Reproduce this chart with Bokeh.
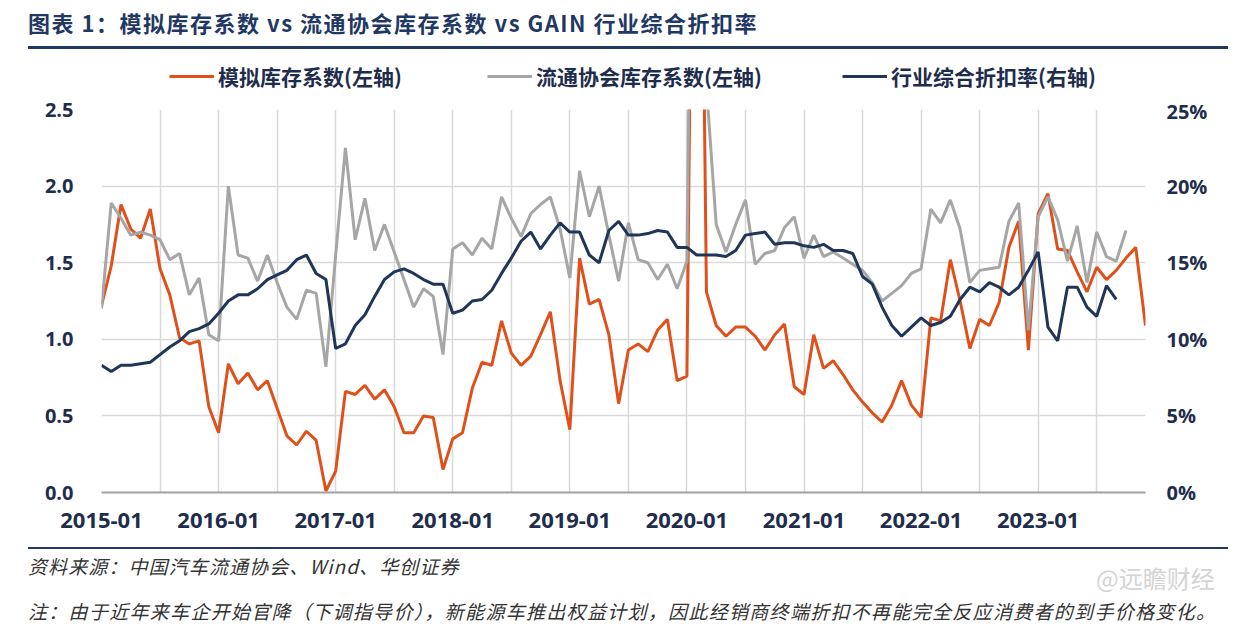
from bokeh.plotting import figure
from bokeh.layouts import column
from bokeh.models import (Range1d, LinearAxis, FixedTicker, Legend, LegendItem, Div,
                          PrintfTickFormatter)
from bokeh.embed import file_html
from bokeh.resources import INLINE

# ---------------- data (monthly, index 0 = 2015-01) ----------------
tick_labels = ["2015-01", "2016-01", "2017-01", "2018-01", "2019-01",
               "2020-01", "2021-01", "2022-01", "2023-01"]

# 模拟库存系数 (left axis), 2015-01 .. 2023-12
sim_inventory = [
    1.22, 1.48, 1.88, 1.72, 1.66, 1.85, 1.46, 1.29, 1.01, 0.97, 0.99, 0.56,
    0.39, 0.84, 0.71, 0.78, 0.67, 0.73, 0.55, 0.37, 0.31, 0.40, 0.34, 0.01,
    0.14, 0.66, 0.64, 0.70, 0.61, 0.67, 0.56, 0.39, 0.39, 0.50, 0.49, 0.15,
    0.35, 0.39, 0.68, 0.85, 0.83, 1.12, 0.91, 0.83, 0.89, 1.03, 1.18, 0.73,
    0.41, 1.53, 1.23, 1.26, 1.03, 0.58, 0.93, 0.97, 0.92, 1.06, 1.13, 0.73,
    0.76, 7.00, 1.31, 1.09, 1.02, 1.08, 1.08, 1.02, 0.93, 1.03, 1.10, 0.69,
    0.64, 1.03, 0.81, 0.86, 0.77, 0.67, 0.59, 0.52, 0.46, 0.57, 0.73, 0.57,
    0.49, 1.14, 1.12, 1.52, 1.25, 0.94, 1.13, 1.09, 1.24, 1.60, 1.77, 0.93,
    1.82, 1.95, 1.59, 1.58, 1.44, 1.31, 1.47, 1.39, 1.45, 1.53, 1.60, 1.09,
]

# 流通协会库存系数 (left axis), 2015-01 .. 2023-10
assoc_inventory = [
    1.20, 1.89, 1.79, 1.68, 1.70, 1.68, 1.65, 1.52, 1.56, 1.29, 1.40, 1.03,
    0.99, 2.00, 1.55, 1.53, 1.38, 1.55, 1.37, 1.21, 1.13, 1.32, 1.30, 0.82,
    1.55, 2.25, 1.65, 1.92, 1.58, 1.75, 1.57, 1.39, 1.21, 1.33, 1.28, 0.90,
    1.59, 1.63, 1.55, 1.66, 1.59, 1.93, 1.79, 1.67, 1.82, 1.88, 1.93, 1.72,
    1.40, 2.10, 1.80, 2.00, 1.68, 1.38, 1.76, 1.52, 1.50, 1.39, 1.49, 1.33,
    1.51, 7.00, 2.65, 1.75, 1.57, 1.75, 1.91, 1.49, 1.56, 1.58, 1.73, 1.80,
    1.53, 1.68, 1.54, 1.57, 1.53, 1.49, 1.45, 1.37, 1.25, 1.30, 1.35, 1.43,
    1.46, 1.85, 1.76, 1.91, 1.72, 1.37, 1.45, 1.46, 1.47, 1.77, 1.89, 1.06,
    1.80, 1.93, 1.78, 1.51, 1.74, 1.37, 1.70, 1.54, 1.51, 1.71,
]

# 行业综合折扣率 (right axis, %), 2015-01 .. 2023-09
discount_rate = [
    8.3, 7.9, 8.3, 8.3, 8.4, 8.5, 9.0, 9.5, 9.9, 10.5, 10.7, 11.0,
    11.7, 12.5, 12.9, 12.9, 13.3, 13.9, 14.2, 14.5, 15.2, 15.5, 14.3, 13.9,
    9.4, 9.7, 10.9, 11.6, 12.8, 13.9, 14.4, 14.6, 14.3, 13.9, 13.6, 13.6,
    11.7, 11.9, 12.5, 12.6, 13.2, 14.3, 15.3, 16.4, 17.0, 15.9, 16.8, 17.6,
    17.0, 17.0, 15.5, 15.0, 17.1, 17.7, 16.8, 16.8, 16.9, 17.1, 17.0, 16.0,
    16.0, 15.5, 15.5, 15.5, 15.4, 15.8, 16.8, 16.9, 17.0, 16.2, 16.3, 16.3,
    16.1, 16.0, 16.2, 15.8, 15.8, 15.6, 14.1, 13.6, 12.1, 10.9, 10.2, 10.8,
    11.4, 10.9, 11.1, 11.5, 12.6, 13.4, 13.1, 13.7, 13.4, 12.9, 13.4, 14.5,
    15.7, 10.8, 9.9, 13.4, 13.4, 12.1, 11.5, 13.5, 12.6,
]

left_ticks = [0.0, 0.5, 1.0, 1.5, 2.0, 2.5]
right_ticks = [0, 5, 10, 15, 20, 25]

series_names = ["模拟库存系数(左轴)", "流通协会库存系数(左轴)", "行业综合折扣率(右轴)"]
title_text = "图表 1：模拟库存系数 vs 流通协会库存系数 vs GAIN 行业综合折扣率"
source_text = "资料来源：中国汽车流通协会、Wind、华创证券"
note_text = ("注：由于近年来车企开始官降（下调指导价），新能源车推出权益计划，"
             "因此经销商终端折扣不再能完全反应消费者的到手价格变化。")
watermark_text = "@远瞻财经"

# ---------------- style ----------------
ORANGE = "#E0501B"
GRAY = "#A6A6A6"
NAVY = "#1F3658"
TEXT = "#1F2D4D"
TITLE_C = "#1F3864"
GRID = "#D9D9D9"
CJK = "Noto Sans CJK SC"
SERIES_COLORS = [ORANGE, GRAY, NAVY]
W = 1242

# ---------------- header (title + rule) ----------------
header = Div(width=W, height=60, margin=0, text=f"""
<div style="position:relative;width:{W}px;height:60px;overflow:hidden;">
  <div style="position:absolute;left:28px;top:7px;height:30px;line-height:30px;
              font-family:'{CJK}';font-weight:bold;font-size:22px;letter-spacing:1.5px;
              color:{TITLE_C};white-space:nowrap;">{title_text}</div>
  <div style="position:absolute;left:28px;top:46px;width:1200px;height:3px;
              background:{TITLE_C};"></div>
</div>""")

# ---------------- legend strip ----------------
leg_fig = figure(width=W, height=37, output_backend="svg", toolbar_location=None,
                 title=None, x_axis_type=None, y_axis_type=None,
                 x_range=Range1d(0, 1), y_range=Range1d(0, 1),
                 min_border_left=101, min_border_right=97, min_border_top=0,
                 min_border_bottom=0, outline_line_color=None,
                 background_fill_color="white", border_fill_color="white")
swatches = [leg_fig.line(x=[0], y=[float("nan")], line_color=c, line_width=3)
            for c in SERIES_COLORS]
for r, name, vx in zip(swatches, series_names, [68, 386, 741]):
    leg_fig.add_layout(Legend(
        items=[LegendItem(label=name, renderers=[r])], location=(vx, 6),
        orientation="horizontal", margin=0, padding=0, spacing=0,
        border_line_color=None, background_fill_alpha=0,
        glyph_width=45, glyph_height=24, label_height=24, label_standoff=4,
        label_text_font=CJK, label_text_font_style="bold",
        label_text_font_size="21px", label_text_color=TEXT), "center")

# ---------------- main chart ----------------
n_months = len(sim_inventory)
p = figure(width=W, height=443, output_backend="svg", toolbar_location=None,
           title=None, x_range=Range1d(0, n_months - 1), y_range=Range1d(0, 2.5),
           min_border_left=101, min_border_right=97, min_border_top=12,
           min_border_bottom=48, outline_line_color=None,
           background_fill_color="white", border_fill_color="white")
p.extra_y_ranges = {"pct": Range1d(0, 25)}

p.line(list(range(len(sim_inventory))), sim_inventory, line_color=ORANGE, line_width=3)
p.line(list(range(len(assoc_inventory))), assoc_inventory, line_color=GRAY, line_width=3)
p.line(list(range(len(discount_rate))), discount_rate, line_color=NAVY, line_width=3,
       y_range_name="pct")

xa = p.xaxis[0]
xa.ticker = FixedTicker(ticks=[12 * k for k in range(len(tick_labels))])
xa.major_label_overrides = {12 * k: lab for k, lab in enumerate(tick_labels)}
xa.axis_line_color = "#A0A0A0"
xa.axis_line_width = 2
xa.major_tick_out = 0
xa.major_tick_in = 0
xa.minor_tick_out = 0
xa.minor_tick_in = 0
xa.major_label_standoff = 20
xa.major_label_text_font = "Open Sans"
xa.major_label_text_font_style = "bold"
xa.major_label_text_font_size = "22px"
xa.major_label_text_color = TEXT

ya = p.yaxis[0]
ya.ticker = FixedTicker(ticks=left_ticks)
ya.formatter = PrintfTickFormatter(format="%.1f")
ya.axis_line_color = None
ya.major_tick_out = 0
ya.major_tick_in = 0
ya.minor_tick_out = 0
ya.minor_tick_in = 0
ya.major_label_standoff = 28
ya.major_label_text_font = "Open Sans"
ya.major_label_text_font_style = "bold"
ya.major_label_text_font_size = "20px"
ya.major_label_text_color = TEXT

ra = LinearAxis(y_range_name="pct", ticker=FixedTicker(ticks=right_ticks),
                formatter=PrintfTickFormatter(format="%d%%"))
ra.axis_line_color = None
ra.major_tick_out = 0
ra.major_tick_in = 0
ra.minor_tick_out = 0
ra.minor_tick_in = 0
ra.major_label_standoff = 21
ra.major_label_text_font = "Open Sans"
ra.major_label_text_font_style = "bold"
ra.major_label_text_font_size = "20px"
ra.major_label_text_color = TEXT
p.add_layout(ra, "right")

p.xgrid.ticker = FixedTicker(ticks=[6 * k for k in range(n_months // 6 + 1)])
p.xgrid.grid_line_color = GRID
p.xgrid.grid_line_width = 1.5
p.ygrid.ticker = FixedTicker(ticks=left_ticks)
p.ygrid.grid_line_color = GRID
p.ygrid.grid_line_width = 1.5

# ---------------- footer (rule, source, watermark, note) ----------------
footer = Div(width=W, height=87, margin=0, text=f"""
<div style="position:relative;width:{W}px;height:87px;overflow:hidden;">
  <div style="position:absolute;left:28px;top:7px;width:1200px;height:2px;
              background:{TITLE_C};"></div>
  <div style="position:absolute;left:28px;top:13px;height:26px;line-height:26px;
              font-family:'{CJK}';font-style:italic;font-size:19px;letter-spacing:1.1px;
              color:#333333;white-space:nowrap;">{source_text}</div>
  <div style="position:absolute;left:1096px;top:23px;height:30px;line-height:30px;
              font-family:'{CJK}';font-size:24px;color:#D4D4D4;
              white-space:nowrap;">{watermark_text}</div>
  <div style="position:absolute;left:28px;top:58px;height:26px;line-height:26px;
              font-family:'{CJK}';font-style:italic;font-size:19px;letter-spacing:1.3px;
              color:#333333;white-space:nowrap;">{note_text}</div>
</div>""")

layout = column(header, leg_fig, p, footer, spacing=0)
open("out.html", "w").write(file_html(layout, INLINE))
